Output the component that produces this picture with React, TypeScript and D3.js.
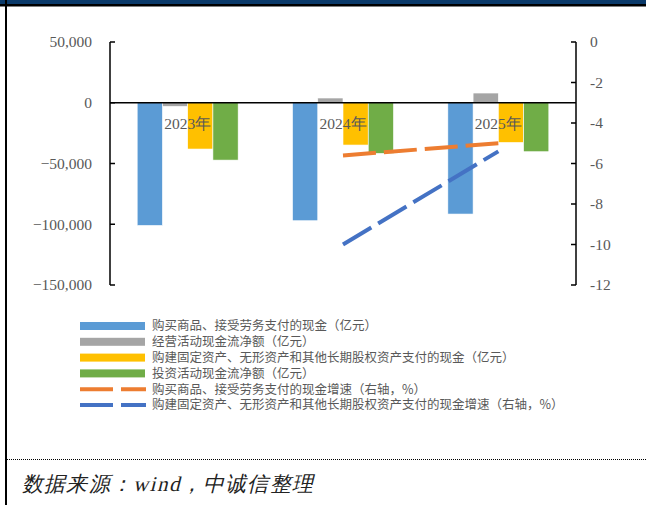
import React from "react";
import * as d3 from "d3";

const years = ["2023年", "2024年", "2025年"];
const purchaseCash = [-101000, -97100, -91600];
const operatingNet = [-3000, 3900, 8000];
const capexCash = [-38100, -34800, -32700];
const investingNet = [-47200, -41700, -40300];
const purchaseGrowth: (number | null)[] = [null, -5.6, -5.0];
const capexGrowth: (number | null)[] = [null, -10.0, -5.4];
const leftTicks = [50000, 0, -50000, -100000, -150000];
const rightTicks = [0, -2, -4, -6, -8, -10, -12];

const barSeries = [
  { name: "购买商品、接受劳务支付的现金（亿元）", values: purchaseCash, color: "#5B9BD5" },
  { name: "经营活动现金流净额（亿元）", values: operatingNet, color: "#A5A5A5" },
  { name: "购建固定资产、无形资产和其他长期股权资产支付的现金（亿元）", values: capexCash, color: "#FFC000" },
  { name: "投资活动现金流净额（亿元）", values: investingNet, color: "#70AD47" },
];
const lineSeries = [
  { name: "购买商品、接受劳务支付的现金增速（右轴，%）", values: purchaseGrowth, color: "#ED7D31" },
  { name: "购建固定资产、无形资产和其他长期股权资产支付的现金增速（右轴，%）", values: capexGrowth, color: "#4472C4" },
];

const W = 646;
const H = 505;
const plotL = 110;
const plotR = 576;
const plotT = 42;
const plotB = 285;

const serif = "'Liberation Serif', 'Times New Roman', serif";
const cjk = "'Noto Sans CJK SC', sans-serif";
const labelColor = "#595959";

export default function App() {
  const x = d3.scaleBand<string>().domain(years).range([plotL, plotR]).paddingInner(0.35).paddingOuter(0.175);
  const xSub = d3.scaleBand<number>().domain(d3.range(barSeries.length)).range([0, x.bandwidth()]);
  const yL = d3.scaleLinear().domain([-150000, 50000]).range([plotB, plotT]);
  const yR = d3.scaleLinear().domain([-12, 0]).range([plotB, plotT]);
  const cx = (c: string) => (x(c) as number) + x.bandwidth() / 2;

  const line = d3
    .line<number | null>()
    .defined((d) => d !== null)
    .x((_, i) => cx(years[i]))
    .y((d) => yR(d as number));

  const legendY0 = 326;
  const legendStep = 15.8;

  return (
    <svg
      width={W}
      height={H}
      style={{ position: "absolute", left: 0, top: 0, background: "#fff" }}
    >
      {/* page frame */}
      <rect x={0} y={0} width={W} height={4} fill="#0B3A6A" />
      <rect x={0} y={4} width={W} height={2.5} fill="#000" />
      <rect x={5} y={0} width={2} height={H} fill="#000" />

      {/* bars */}
      {barSeries.map((s, si) =>
        s.values.map((v, i) => {
          const bx = (x(years[i]) as number) + (xSub(si) as number);
          const y0 = yL(0);
          const y1 = yL(v);
          return (
            <rect
              key={`${si}-${i}`}
              x={bx}
              y={Math.min(y0, y1)}
              width={xSub.bandwidth()}
              height={Math.abs(y1 - y0)}
              fill={s.color}
              stroke="#fff"
              strokeWidth={0.6}
            />
          );
        })
      )}

      {/* zero line */}
      <line x1={plotL} x2={plotR} y1={yL(0)} y2={yL(0)} stroke="#000" strokeWidth={1.5} />

      {/* category labels */}
      {years.map((c) => (
        <text
          key={c}
          x={cx(c)}
          y={yL(0) + 26}
          textAnchor="middle"
          fontFamily={serif}
          fontSize={15.5}
          fill={labelColor}
        >
          {c}
        </text>
      ))}

      {/* growth lines */}
      {lineSeries.map((s) => (
        <path
          key={s.name}
          d={line(s.values) || ""}
          fill="none"
          stroke={s.color}
          strokeWidth={4}
          strokeDasharray="33 8"
        />
      ))}

      {/* left axis */}
      <line x1={plotL} x2={plotL} y1={plotT} y2={plotB} stroke="#000" strokeWidth={1.5} />
      {leftTicks.map((t) => (
        <g key={t}>
          <line x1={plotL} x2={plotL + 5} y1={yL(t)} y2={yL(t)} stroke="#000" strokeWidth={1.5} />
          <text
            x={92}
            y={yL(t)}
            dy="0.35em"
            textAnchor="end"
            fontFamily={serif}
            fontSize={15.5}
            fill={labelColor}
          >
            {d3.format(",")(t)}
          </text>
        </g>
      ))}

      {/* right axis */}
      <line x1={plotR} x2={plotR} y1={plotT} y2={plotB} stroke="#000" strokeWidth={1.5} />
      {rightTicks.map((t) => (
        <g key={t}>
          <line x1={plotR - 5} x2={plotR} y1={yR(t)} y2={yR(t)} stroke="#000" strokeWidth={1.5} />
          <text
            x={590}
            y={yR(t)}
            dy="0.35em"
            textAnchor="start"
            fontFamily={serif}
            fontSize={15.5}
            fill={labelColor}
          >
            {t}
          </text>
        </g>
      ))}

      {/* legend */}
      {barSeries.map((s, i) => (
        <g key={s.name}>
          <rect x={80} y={legendY0 + i * legendStep - 4} width={65} height={8} fill={s.color} />
          <text
            x={152}
            y={legendY0 + i * legendStep}
            dy="0.35em"
            fontFamily={cjk}
            fontSize={12.5}
            fill={labelColor}
          >
            {s.name}
          </text>
        </g>
      ))}
      {lineSeries.map((s, j) => {
        const ly = legendY0 + (barSeries.length + j) * legendStep;
        return (
          <g key={s.name}>
            <line x1={80} x2={146} y1={ly} y2={ly} stroke={s.color} strokeWidth={4} strokeDasharray="33 8" />
            <text x={152} y={ly} dy="0.35em" fontFamily={cjk} fontSize={12.5} fill={labelColor}>
              {s.name}
            </text>
          </g>
        );
      })}

      {/* footer */}
      <line x1={7} x2={W} y1={459.5} y2={459.5} stroke="#000" strokeWidth={1} strokeDasharray="1 1" />
      <text
        transform="translate(22,491) skewX(-14)"
        fontFamily={serif}
        fontSize={21}
        letterSpacing={1.5}
        fill="#222"
      >
        数据来源：wind，中诚信整理
      </text>
    </svg>
  );
}
